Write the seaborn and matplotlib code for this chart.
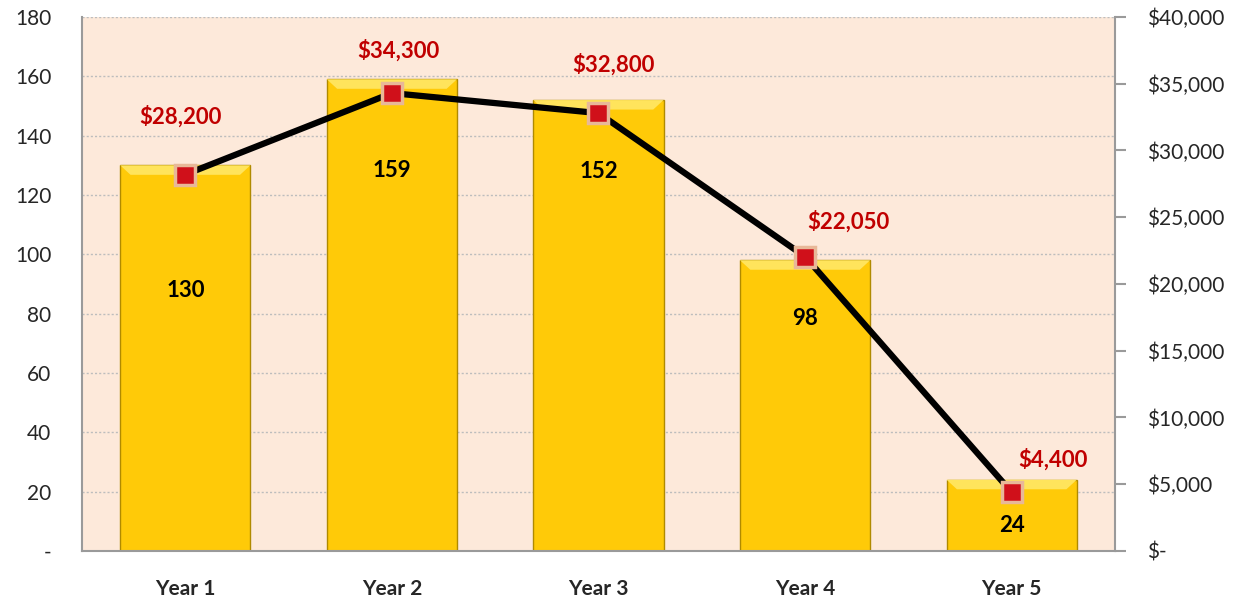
import numpy as np
import pandas as pd
import matplotlib.pyplot as plt
import seaborn as sns
from matplotlib.ticker import FuncFormatter

# data
years = ['Year 1', 'Year 2', 'Year 3', 'Year 4', 'Year 5']
units = [130, 159, 152, 98, 24]
revenue = [28200, 34300, 32800, 22050, 4400]

df = pd.DataFrame({'Year': years, 'Units': units, 'Revenue': revenue})

sns.set_theme(style='white')
plt.rcParams['font.family'] = ['Lato', 'DejaVu Sans']

fig = plt.figure(figsize=(12.48, 6.05), dpi=100)
ax = fig.add_axes([0.0657, 0.0893, 0.8277, 0.8826])
ax.set_facecolor('#FDE9DA')

# bars
sns.barplot(data=df, x='Year', y='Units', ax=ax, color='#FFCA08',
            width=0.63, edgecolor='#B08A00', linewidth=1.0, saturation=1, zorder=2)
# light bevel strip at the top of each bar
for p in ax.patches:
    x0, w, h = p.get_x(), p.get_width(), p.get_height()
    ax.fill([x0, x0 + w, x0 + w - 0.05, x0 + 0.05], [h, h, h - 3.2, h - 3.2],
            color='#FFE45C', zorder=3, lw=0)
ax.set_xlim(-0.5, 4.5)
ax.set_ylim(0, 180)
ax.set_yticks(range(0, 181, 20))
ax.yaxis.set_major_formatter(FuncFormatter(lambda v, _: '-' if v == 0 else f'{v:.0f}'))
ax.grid(axis='y', color='#BDBDBD', linestyle=(0, (1.5, 1.5)), linewidth=1.0, zorder=0)
ax.set_axisbelow(True)
ax.set_xlabel('')
ax.set_ylabel('')
ax.tick_params(axis='y', labelsize=15, length=0, pad=22)
ax.tick_params(axis='x', labelsize=15, length=0, pad=20)
for t in ax.get_xticklabels():
    t.set_fontweight('bold')
for s in ['top', 'right']:
    ax.spines[s].set_visible(False)
for s in ['left', 'bottom']:
    ax.spines[s].set_color('#9A9A9A')
    ax.spines[s].set_linewidth(1.5)

# bar value labels (Excel put them at odd depths inside the bars)
bar_label_drop = [125, 91, 71, 58, 46]
for i, v in enumerate(units):
    ax.annotate(f'{v}', (i, v), xytext=(0, -bar_label_drop[i]), textcoords='offset pixels',
                ha='center', va='center', fontsize=16, fontweight='bold', color='black', zorder=5)

# revenue line on secondary axis
ax2 = ax.twinx()
sns.lineplot(data=df, x='Year', y='Revenue', ax=ax2, color='black', linewidth=4.5,
             marker='s', markersize=14, markerfacecolor='#D0101A',
             markeredgecolor='#E8B898', markeredgewidth=2.5, zorder=6)
ax2.set_ylim(0, 40000)
ax2.set_yticks(range(0, 40001, 5000))
ax2.yaxis.set_major_formatter(FuncFormatter(lambda v, _: '$-' if v == 0 else f'${v:,.0f}'))
ax2.tick_params(axis='y', labelsize=15, length=8, width=1.5, color='#9A9A9A', pad=15, right=True)
ax2.set_ylabel('')
ax2.set_xlabel('')
for s in ['top', 'left', 'bottom']:
    ax2.spines[s].set_visible(False)
ax2.spines['right'].set_color('#9A9A9A')
ax2.spines['right'].set_linewidth(1.5)
ax2.grid(False)

rev_label_off = [(-5, 58), (7, 43), (15, 49), (43, 35), (41, 33)]
for i, v in enumerate(revenue):
    dx, dy = rev_label_off[i]
    ax2.annotate(f'${v:,.0f}', (i, v), xytext=(dx, dy), textcoords='offset pixels',
                 ha='center', va='center', fontsize=16, fontweight='bold', color='#C00000')

fig.savefig('out.png', dpi=100)
